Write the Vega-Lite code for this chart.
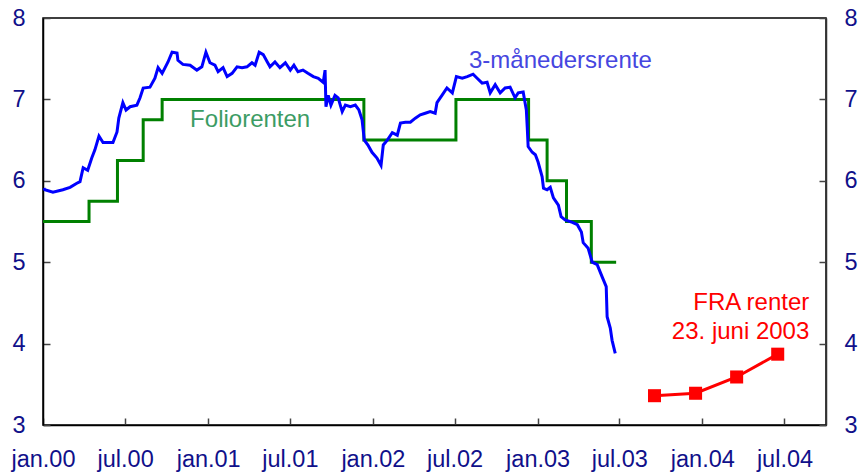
{
  "$schema": "https://vega.github.io/schema/vega-lite/v6.json",
  "width": 783,
  "height": 407,
  "autosize": "none",
  "padding": {"left": 43, "top": 18, "right": 35, "bottom": 49},
  "background": "#ffffff",
  "config": {
    "view": {"stroke": "#000000", "strokeWidth": 1.5},
    "font": "Liberation Sans",
    "axis": {
      "labelFont": "Liberation Sans",
      "labelFontSize": 23.5,
      "labelColor": "#10108a",
      "tickSize": -7,
      "tickColor": "#444444",
      "tickWidth": 1.5,
      "domainColor": "#000000",
      "domainWidth": 1.5,
      "grid": false,
      "labelFlush": false,
      "labelOverlap": false
    }
  },
  "datasets": {
    "nibor": [
      {"date": "2000-01-03", "value": 5.91},
      {"date": "2000-01-05", "value": 5.89},
      {"date": "2000-01-23", "value": 5.86},
      {"date": "2000-02-14", "value": 5.89},
      {"date": "2000-03-01", "value": 5.92},
      {"date": "2000-03-16", "value": 5.97},
      {"date": "2000-03-23", "value": 5.99},
      {"date": "2000-03-30", "value": 6.16},
      {"date": "2000-04-09", "value": 6.13},
      {"date": "2000-04-18", "value": 6.28},
      {"date": "2000-04-25", "value": 6.38},
      {"date": "2000-05-04", "value": 6.55},
      {"date": "2000-05-13", "value": 6.47},
      {"date": "2000-06-04", "value": 6.47},
      {"date": "2000-06-13", "value": 6.60},
      {"date": "2000-06-17", "value": 6.77},
      {"date": "2000-06-26", "value": 6.96},
      {"date": "2000-07-03", "value": 6.87},
      {"date": "2000-07-12", "value": 6.91},
      {"date": "2000-07-27", "value": 6.93},
      {"date": "2000-08-03", "value": 7.02},
      {"date": "2000-08-10", "value": 7.14},
      {"date": "2000-08-25", "value": 7.15},
      {"date": "2000-09-05", "value": 7.26},
      {"date": "2000-09-12", "value": 7.39},
      {"date": "2000-09-21", "value": 7.32},
      {"date": "2000-10-04", "value": 7.46},
      {"date": "2000-10-13", "value": 7.58},
      {"date": "2000-10-24", "value": 7.57},
      {"date": "2000-10-26", "value": 7.48},
      {"date": "2000-11-06", "value": 7.43},
      {"date": "2000-11-22", "value": 7.42},
      {"date": "2000-12-07", "value": 7.36},
      {"date": "2000-12-18", "value": 7.40},
      {"date": "2000-12-27", "value": 7.58},
      {"date": "2001-01-05", "value": 7.45},
      {"date": "2001-01-16", "value": 7.42},
      {"date": "2001-01-23", "value": 7.34},
      {"date": "2001-02-03", "value": 7.39},
      {"date": "2001-02-12", "value": 7.28},
      {"date": "2001-02-23", "value": 7.32},
      {"date": "2001-03-06", "value": 7.40},
      {"date": "2001-03-17", "value": 7.39},
      {"date": "2001-03-28", "value": 7.40},
      {"date": "2001-04-08", "value": 7.45},
      {"date": "2001-04-15", "value": 7.42},
      {"date": "2001-04-24", "value": 7.58},
      {"date": "2001-05-03", "value": 7.55},
      {"date": "2001-05-12", "value": 7.46},
      {"date": "2001-05-18", "value": 7.40},
      {"date": "2001-05-29", "value": 7.46},
      {"date": "2001-06-09", "value": 7.39},
      {"date": "2001-06-21", "value": 7.45},
      {"date": "2001-07-02", "value": 7.36},
      {"date": "2001-07-10", "value": 7.42},
      {"date": "2001-07-19", "value": 7.34},
      {"date": "2001-07-30", "value": 7.36},
      {"date": "2001-08-10", "value": 7.32},
      {"date": "2001-08-22", "value": 7.28},
      {"date": "2001-09-02", "value": 7.26},
      {"date": "2001-09-13", "value": 7.21},
      {"date": "2001-09-17", "value": 7.36},
      {"date": "2001-09-19", "value": 6.91},
      {"date": "2001-09-24", "value": 7.05},
      {"date": "2001-09-30", "value": 6.93},
      {"date": "2001-10-09", "value": 7.05},
      {"date": "2001-10-16", "value": 7.02},
      {"date": "2001-10-25", "value": 6.85},
      {"date": "2001-11-01", "value": 6.93},
      {"date": "2001-11-12", "value": 6.91},
      {"date": "2001-11-23", "value": 6.93},
      {"date": "2001-12-01", "value": 6.87},
      {"date": "2001-12-08", "value": 6.75},
      {"date": "2001-12-13", "value": 6.50},
      {"date": "2001-12-21", "value": 6.44},
      {"date": "2001-12-30", "value": 6.35},
      {"date": "2002-01-10", "value": 6.28},
      {"date": "2002-01-19", "value": 6.19},
      {"date": "2002-01-24", "value": 6.44},
      {"date": "2002-02-02", "value": 6.50},
      {"date": "2002-02-13", "value": 6.59},
      {"date": "2002-02-24", "value": 6.56},
      {"date": "2002-03-03", "value": 6.71},
      {"date": "2002-03-14", "value": 6.72},
      {"date": "2002-03-25", "value": 6.72},
      {"date": "2002-04-05", "value": 6.77},
      {"date": "2002-04-16", "value": 6.81},
      {"date": "2002-04-27", "value": 6.83},
      {"date": "2002-05-08", "value": 6.85},
      {"date": "2002-05-19", "value": 6.83},
      {"date": "2002-05-23", "value": 6.96},
      {"date": "2002-06-03", "value": 7.05},
      {"date": "2002-06-14", "value": 7.14},
      {"date": "2002-06-26", "value": 7.08},
      {"date": "2002-07-05", "value": 7.28},
      {"date": "2002-07-18", "value": 7.26},
      {"date": "2002-07-29", "value": 7.28},
      {"date": "2002-08-11", "value": 7.31},
      {"date": "2002-08-20", "value": 7.26},
      {"date": "2002-08-31", "value": 7.20},
      {"date": "2002-09-11", "value": 7.21},
      {"date": "2002-09-18", "value": 7.08},
      {"date": "2002-09-29", "value": 7.18},
      {"date": "2002-10-10", "value": 7.08},
      {"date": "2002-10-21", "value": 7.14},
      {"date": "2002-11-01", "value": 7.15},
      {"date": "2002-11-12", "value": 7.02},
      {"date": "2002-11-19", "value": 7.08},
      {"date": "2002-11-30", "value": 7.09},
      {"date": "2002-12-07", "value": 6.87},
      {"date": "2002-12-09", "value": 6.66},
      {"date": "2002-12-11", "value": 6.42},
      {"date": "2002-12-20", "value": 6.35},
      {"date": "2002-12-27", "value": 6.32},
      {"date": "2003-01-02", "value": 6.23},
      {"date": "2003-01-11", "value": 6.05},
      {"date": "2003-01-14", "value": 5.91},
      {"date": "2003-01-22", "value": 5.89},
      {"date": "2003-01-29", "value": 5.92},
      {"date": "2003-02-05", "value": 5.79},
      {"date": "2003-02-16", "value": 5.70},
      {"date": "2003-02-22", "value": 5.56},
      {"date": "2003-03-03", "value": 5.52},
      {"date": "2003-03-19", "value": 5.49},
      {"date": "2003-03-30", "value": 5.46},
      {"date": "2003-04-08", "value": 5.37},
      {"date": "2003-04-12", "value": 5.24},
      {"date": "2003-04-23", "value": 5.17},
      {"date": "2003-05-02", "value": 5.00},
      {"date": "2003-05-13", "value": 4.97},
      {"date": "2003-05-24", "value": 4.82},
      {"date": "2003-06-02", "value": 4.70},
      {"date": "2003-06-04", "value": 4.33},
      {"date": "2003-06-11", "value": 4.19},
      {"date": "2003-06-15", "value": 4.04},
      {"date": "2003-06-22", "value": 3.88}
    ],
    "folio": [
      {"date": "2000-01-01", "value": 5.5},
      {"date": "2000-04-12", "value": 5.75},
      {"date": "2000-06-14", "value": 6.25},
      {"date": "2000-08-10", "value": 6.75},
      {"date": "2000-09-21", "value": 7.0},
      {"date": "2001-12-12", "value": 6.5},
      {"date": "2002-07-04", "value": 7.0},
      {"date": "2002-12-12", "value": 6.5},
      {"date": "2003-01-22", "value": 6.0},
      {"date": "2003-03-06", "value": 5.5},
      {"date": "2003-04-30", "value": 5.0},
      {"date": "2003-06-24", "value": 5.0}
    ],
    "fra": [
      {"date": "2003-09-17", "value": 3.36},
      {"date": "2003-12-17", "value": 3.39},
      {"date": "2004-03-17", "value": 3.59},
      {"date": "2004-06-16", "value": 3.87}
    ]
  },
  "encoding": {
    "x": {
      "field": "date",
      "type": "temporal",
      "title": null,
      "scale": {
        "type": "utc",
        "domain": [
          {"year": 2000, "month": 1, "date": 1, "utc": true},
          {"year": 2004, "month": 10, "date": 1, "utc": true}
        ]
      },
      "axis": {
        "orient": "bottom",
        "labelPadding": 29,
        "values": [
          {"year": 2000, "month": 1, "date": 1, "utc": true},
          {"year": 2000, "month": 7, "date": 1, "utc": true},
          {"year": 2001, "month": 1, "date": 1, "utc": true},
          {"year": 2001, "month": 7, "date": 1, "utc": true},
          {"year": 2002, "month": 1, "date": 1, "utc": true},
          {"year": 2002, "month": 7, "date": 1, "utc": true},
          {"year": 2003, "month": 1, "date": 1, "utc": true},
          {"year": 2003, "month": 7, "date": 1, "utc": true},
          {"year": 2004, "month": 1, "date": 1, "utc": true},
          {"year": 2004, "month": 7, "date": 1, "utc": true}
        ],
        "labelExpr": "(utcmonth(datum.value) == 0 ? 'jan.' : 'jul.') + utcFormat(datum.value, '%y')"
      }
    }
  },
  "layer": [
    {
      "data": {"name": "folio"},
      "mark": {"type": "line", "interpolate": "step-after", "color": "#008000", "strokeWidth": 3},
      "encoding": {
        "y": {
          "field": "value",
          "type": "quantitative",
          "title": null,
          "scale": {"domain": [3, 8], "nice": false, "zero": false},
          "axis": {"orient": "left", "values": [3, 4, 5, 6, 7, 8], "labelPadding": 25}
        }
      }
    },
    {
      "data": {"name": "nibor"},
      "mark": {"type": "line", "color": "#0000ff", "strokeWidth": 3},
      "encoding": {
        "y": {
          "field": "value",
          "type": "quantitative",
          "title": null,
          "scale": {"domain": [3, 8], "nice": false, "zero": false},
          "axis": {"orient": "right", "values": [3, 4, 5, 6, 7, 8], "labelPadding": 25, "domainColor": "#333333"}
        }
      }
    },
    {
      "data": {"name": "fra"},
      "mark": {
        "type": "line",
        "color": "#ff0000",
        "strokeWidth": 3,
        "point": {"shape": "square", "size": 170, "filled": true, "color": "#ff0000", "opacity": 1}
      },
      "encoding": {
        "y": {"field": "value", "type": "quantitative", "axis": null}
      }
    },
    {
      "data": {"values": [{"date": "2002-08-02", "value": 7.389, "label": "3-månedersrente"}]},
      "mark": {"type": "text", "align": "left", "baseline": "alphabetic", "fontSize": 24, "font": "Liberation Sans", "color": "#4646e0"},
      "encoding": {
        "y": {"field": "value", "type": "quantitative", "axis": null},
        "text": {"field": "label"}
      }
    },
    {
      "data": {"values": [{"date": "2000-11-22", "value": 6.657, "label": "Foliorenten"}]},
      "mark": {"type": "text", "align": "left", "baseline": "alphabetic", "fontSize": 24, "font": "Liberation Sans", "color": "#3c9c64"},
      "encoding": {
        "y": {"field": "value", "type": "quantitative", "axis": null},
        "text": {"field": "label"}
      }
    },
    {
      "data": {"values": [
        {"date": "2004-08-25", "value": 4.413, "label": "FRA renter"},
        {"date": "2004-08-25", "value": 4.057, "label": "23. juni 2003"}
      ]},
      "mark": {"type": "text", "align": "right", "baseline": "alphabetic", "fontSize": 24, "font": "Liberation Sans", "color": "#ff0000"},
      "encoding": {
        "y": {"field": "value", "type": "quantitative", "axis": null},
        "text": {"field": "label"}
      }
    }
  ],
  "resolve": {"axis": {"y": "independent"}}
}
